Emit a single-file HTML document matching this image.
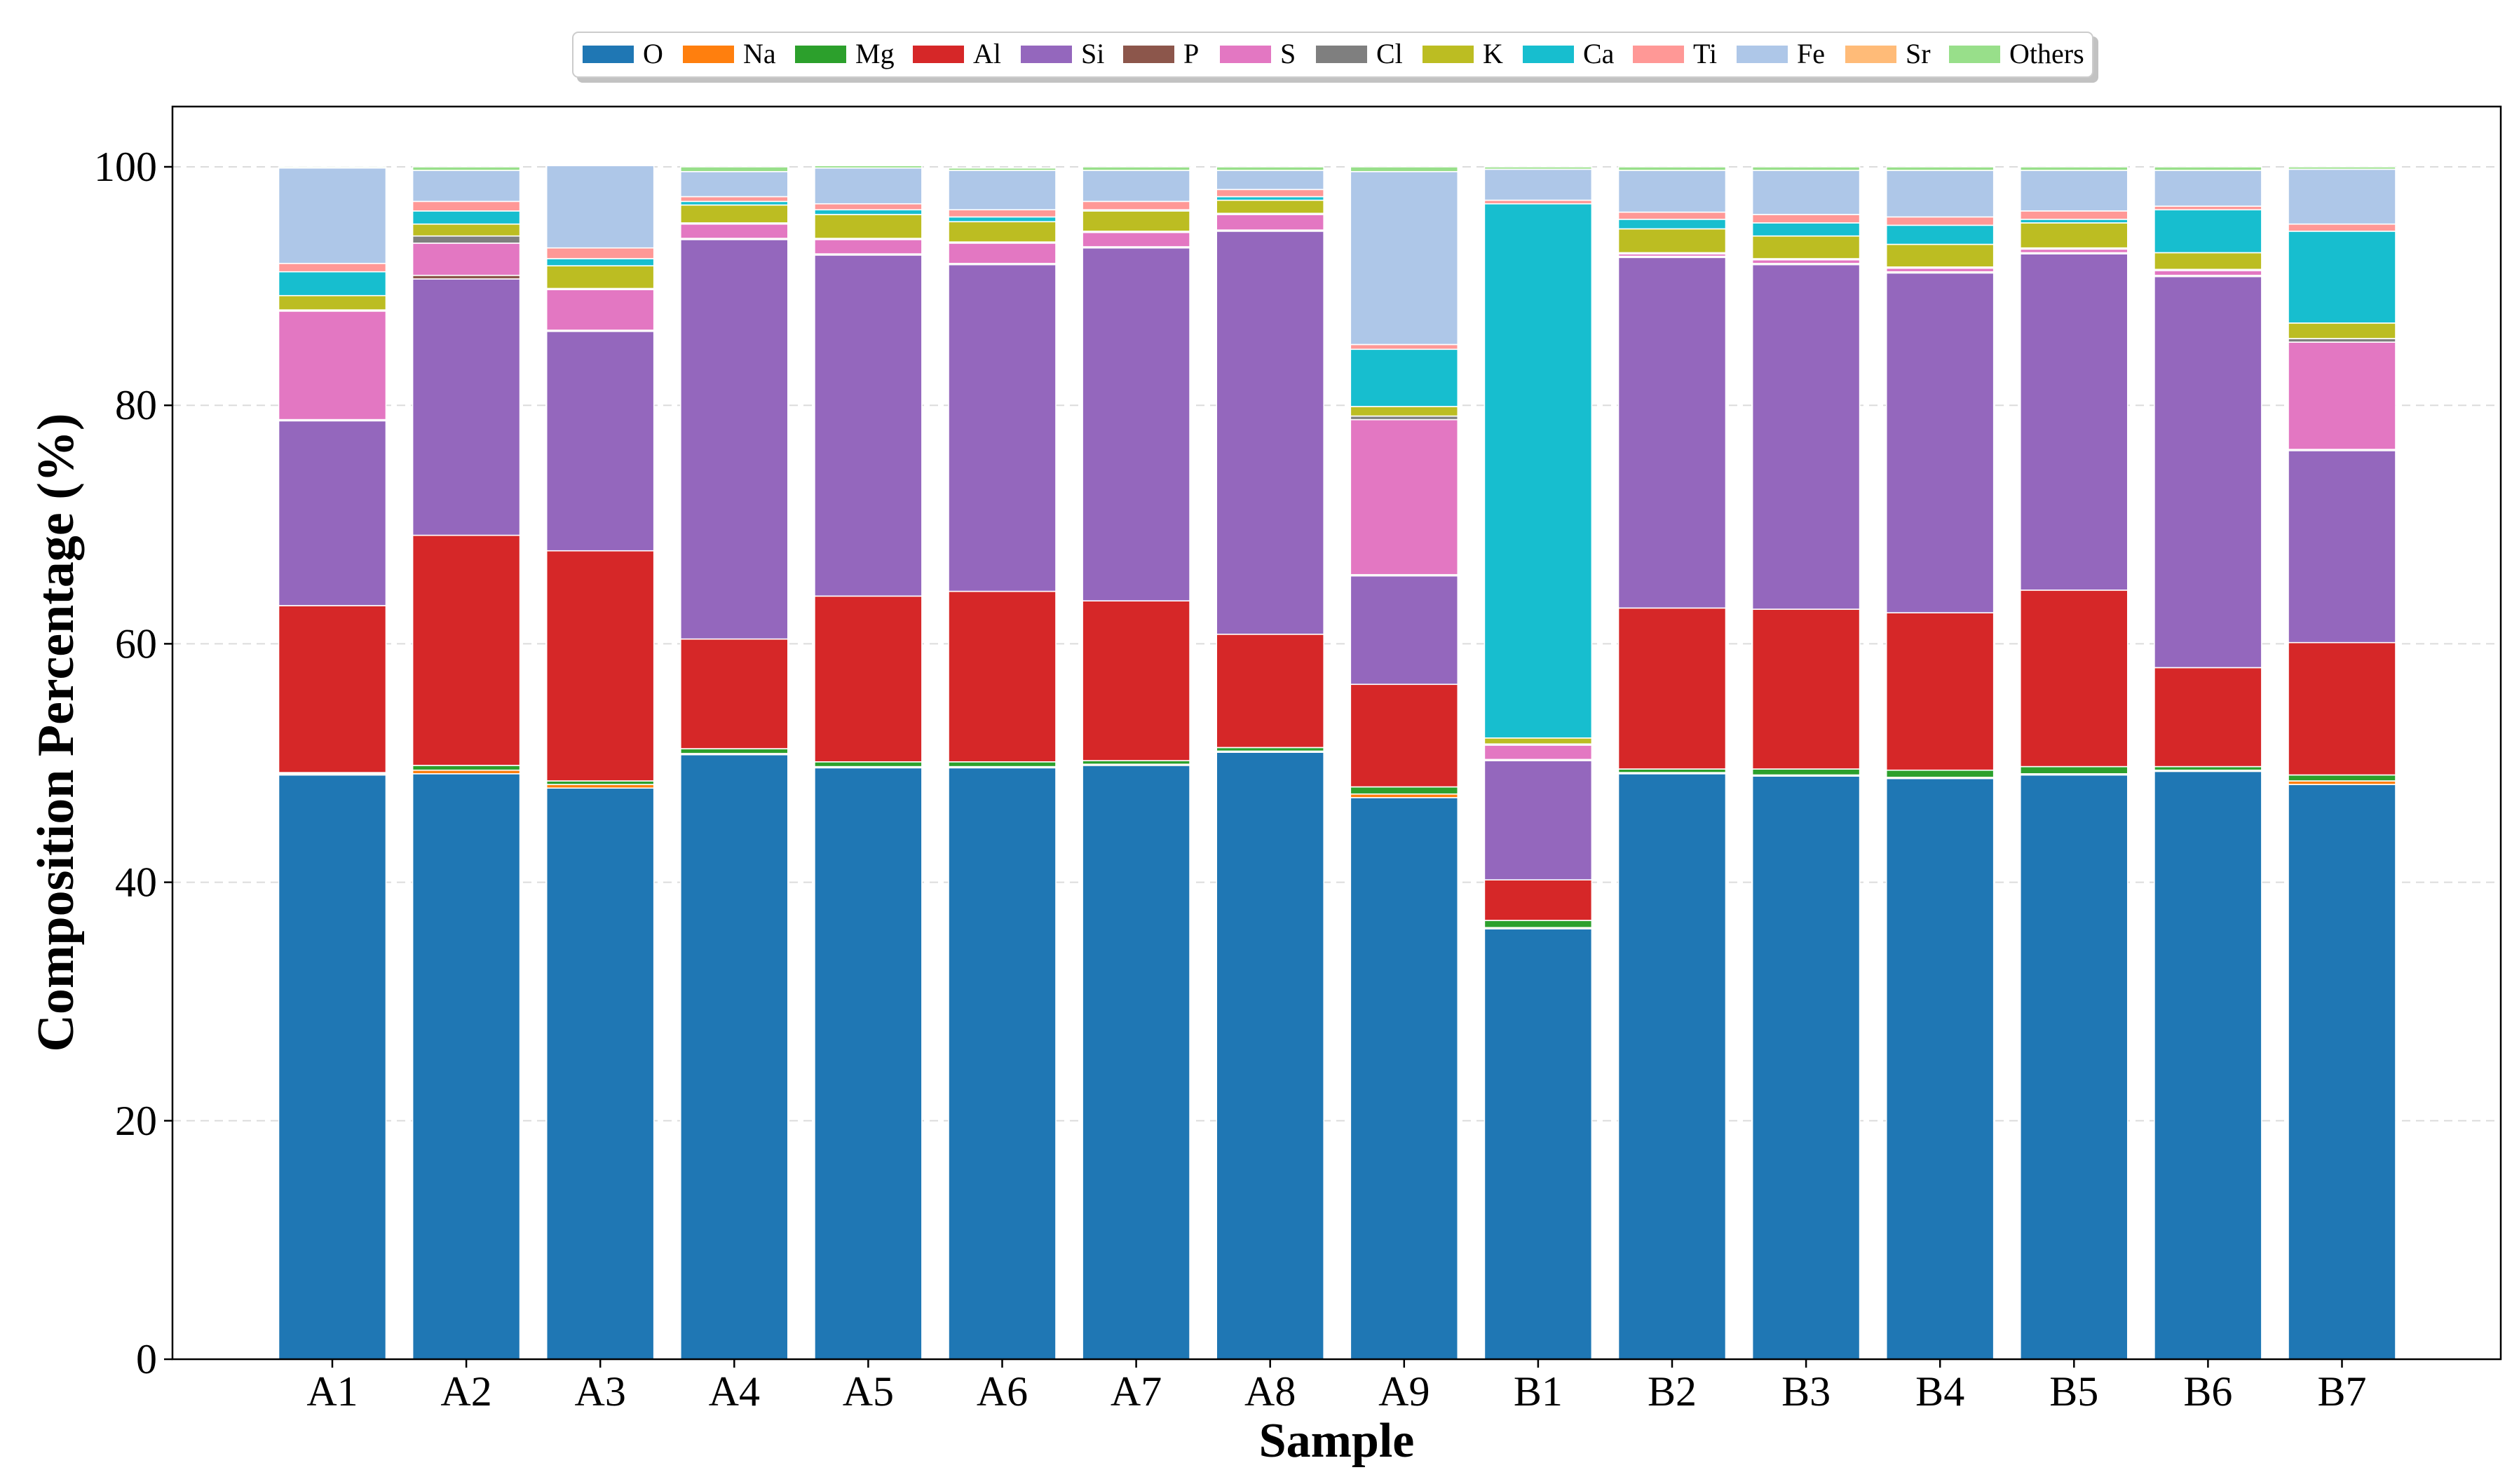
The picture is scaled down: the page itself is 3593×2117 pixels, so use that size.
<!DOCTYPE html>
<html><head><meta charset="utf-8"><style>
html,body{margin:0;padding:0;background:#fff}
svg{display:block;font-family:"Liberation Serif",serif}
</style></head><body>
<svg id="chart" width="3593" height="2117" viewBox="0 0 3593 2117">
<rect width="3593" height="2117" fill="#fff"/>
<g id="grid"></g>
<g id="bars"></g>
<g id="axes"></g>
<g id="legend"></g>
</svg>
<script>
const samples = ["A1","A2","A3","A4","A5","A6","A7","A8","A9","B1","B2","B3","B4","B5","B6","B7"];
const elements = ["O","Na","Mg","Al","Si","P","S","Cl","K","Ca","Ti","Fe","Sr","Others"];
const colors = ["#1f77b4","#ff7f0e","#2ca02c","#d62728","#9467bd","#8c564b","#e377c2","#7f7f7f","#bcbd22","#17becf","#ff9896","#aec7e8","#ffbb78","#98df8a"];
const valO  = [49.0,49.1,47.9,50.7,49.6,49.6,49.8,50.9,47.1,36.1,49.1,48.9,48.7,49.0,49.3,48.2];
const valNa = [0.1,0.3,0.3,0.1,0.1,0.1,0.1,0.1,0.3,0.1,0.1,0.1,0.1,0.1,0.1,0.3];
const valMg = [0.1,0.4,0.3,0.4,0.4,0.4,0.3,0.3,0.6,0.6,0.3,0.5,0.6,0.6,0.3,0.5];
const valAl = [14.0,19.3,19.3,9.2,13.9,14.3,13.4,9.5,8.6,3.4,13.5,13.4,13.2,14.8,8.3,11.1];
const valSi = [15.5,21.5,18.4,33.5,28.6,27.4,29.6,33.8,9.1,10.0,29.4,28.9,28.5,28.2,32.8,16.1];
const valP  = [0.1,0.3,0.1,0.1,0.1,0.1,0.1,0.1,0.1,0.1,0.1,0.1,0.1,0.1,0.1,0.1];
const valS  = [9.1,2.7,3.4,1.2,1.2,1.7,1.2,1.3,13.0,1.2,0.2,0.3,0.3,0.3,0.4,9.0];
const valCl = [0.1,0.6,0.1,0.1,0.1,0.1,0.1,0.1,0.3,0.1,0.1,0.1,0.1,0.1,0.1,0.3];
const valK  = [1.2,1.0,1.9,1.5,2.0,1.7,1.7,1.1,0.8,0.5,2.0,1.9,1.9,2.1,1.4,1.3];
const valCa = [2.0,1.1,0.6,0.3,0.4,0.4,0.1,0.3,4.8,44.8,0.8,1.1,1.6,0.3,3.6,7.7];
const valTi = [0.7,0.8,0.9,0.4,0.5,0.6,0.7,0.6,0.4,0.3,0.6,0.7,0.7,0.7,0.3,0.6];
const valFe = [8.0,2.6,6.9,2.1,3.0,3.3,2.6,1.6,14.5,2.6,3.5,3.7,3.9,3.4,3.0,4.6];
const valSr = [0,0,0,0,0,0,0,0,0,0,0,0,0,0,0,0];
const valOthers = [0.1,0.3,0.0,0.4,0.2,0.2,0.3,0.3,0.4,0.2,0.3,0.3,0.3,0.3,0.3,0.2];
const yTicks = [0,20,40,60,80,100];

const series = [valO,valNa,valMg,valAl,valSi,valP,valS,valCl,valK,valCa,valTi,valFe,valSr,valOthers];
const NS="http://www.w3.org/2000/svg";
const L=246,R=3567,T=152,B=1939;
const y0=1939, yPer=17.01;
function yScale(v){return y0 - v*yPer;}
const x0=474, step=191.1, bw=153;
function xScale(i){return x0 + step*i;}
function mk(tag,attrs,parent){const e=document.createElementNS(NS,tag);for(const k in attrs)e.setAttribute(k,attrs[k]);parent.appendChild(e);return e;}

const grid=document.getElementById('grid');
yTicks.forEach(t=>{ if(t===0) return;
  const l=mk('line',{x1:L,x2:R,y1:yScale(t),y2:yScale(t),stroke:'#dcdcdc','stroke-width':2,'stroke-dasharray':'12,8'},grid);
  
  
});

const bars=document.getElementById('bars');
samples.forEach((s,i)=>{
  let cum=0;
  const g=mk('g',{},bars);
  
  
  series.forEach((arr,k)=>{
    const v=arr[i]; if(!(v>0)) {return;}
    const yt=yScale(cum+v), yb=yScale(cum);
    const r=mk('rect',{x:xScale(i)-bw/2,y:yt,width:bw,height:Math.max(yb-yt,0.5),fill:colors[k],stroke:'#fff','stroke-width':1.6},g);
    
    
    cum+=v;
  });
});

const axes=document.getElementById('axes');
const frame=mk('rect',{x:L,y:T,width:R-L,height:B-T,fill:'none',stroke:'#000','stroke-width':2.5},axes);


yTicks.forEach(t=>{
  const tk=mk('line',{x1:L-12,x2:L,y1:yScale(t),y2:yScale(t),stroke:'#000','stroke-width':2.5},axes);
  
  
  const tx=mk('text',{x:L-22,y:yScale(t)+20,'text-anchor':'end','font-size':60,fill:'#000'},axes);
  tx.textContent=t;
  
  
});
samples.forEach((s,i)=>{
  const tk=mk('line',{x1:xScale(i),x2:xScale(i),y1:B,y2:B+12,stroke:'#000','stroke-width':2.5},axes);
  
  
  const tx=mk('text',{x:xScale(i),y:2005,'text-anchor':'middle','font-size':60,fill:'#000'},axes);
  tx.textContent=s;
  
  
});
const xt=mk('text',{x:(L+R)/2,y:2078,'text-anchor':'middle','font-size':70,'font-weight':'bold',fill:'#000'},axes);
xt.textContent='Sample';


const yt=mk('text',{x:0,y:0,'text-anchor':'middle','font-size':74,'font-weight':'bold',fill:'#000',transform:'translate(104,1045) rotate(-90)'},axes);
yt.textContent='Composition Percentage (%)';



const legend=document.getElementById('legend');
const lx=[831,974,1134,1302,1456,1602,1740,1877,2029,2172,2329,2477,2632,2780];
mk('rect',{x:823,y:52,width:2170,height:66,rx:8,fill:'#999',opacity:0.6},legend);
const lb=mk('rect',{x:817,y:46,width:2168,height:64,rx:8,fill:'#fff',stroke:'#ccc','stroke-width':2},legend);


elements.forEach((e,k)=>{
  const g=mk('g',{},legend);
  
  
  mk('rect',{x:lx[k],y:65,width:73,height:25,fill:colors[k]},g);
  const t=mk('text',{x:lx[k]+86,y:90,'font-size':40,fill:'#000'},g);
  t.textContent=e;
});
</script>
</body></html>
